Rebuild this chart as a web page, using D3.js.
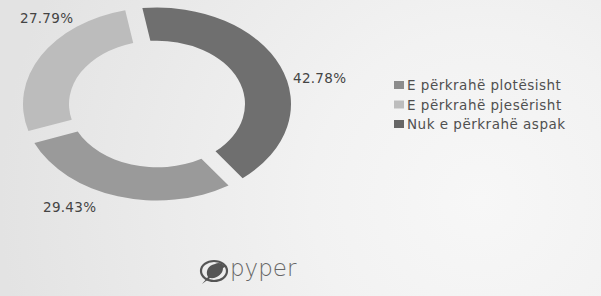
<!DOCTYPE html>
<html>
<head>
<meta charset="utf-8">
<script src="https://cdn.jsdelivr.net/npm/d3@7"></script>
<style>
  html, body { margin: 0; padding: 0; background: #e9e9e9; }
  svg { display: block; }
  text { font-family: "DejaVu Sans", sans-serif; }
</style>
</head>
<body>
<div id="chart"></div>
<script>
var categories = ['E përkrahë plotësisht', 'E përkrahë pjesërisht', 'Nuk e përkrahë aspak'];
var values = [29.43, 27.79, 42.78];
var sliceColors = ['#9a9a9a', '#bcbcbc', '#6f6f6f'];
var legendColors = ['#8c8c8c', '#bdbdbd', '#666666'];
// drawing order around the ring, clockwise from the top
var ringOrder = [2, 0, 1];

var width = 601, height = 296;

var svg = d3.select('#chart')
  .append('svg')
  .attr('width', width)
  .attr('height', height);

var defs = svg.append('defs');
var grad = defs.append('radialGradient')
  .attr('id', 'bg')
  .attr('gradientUnits', 'userSpaceOnUse')
  .attr('cx', 480).attr('cy', 200).attr('r', 480);
grad.append('stop').attr('offset', '0%').attr('stop-color', '#f7f7f7');
grad.append('stop').attr('offset', '35%').attr('stop-color', '#f2f2f2');
grad.append('stop').attr('offset', '100%').attr('stop-color', '#e3e3e3');

svg.append('rect')
  .attr('width', width)
  .attr('height', height)
  .attr('fill', 'url(#bg)');

var slices = ringOrder.map(function (i) {
  return { label: categories[i], value: values[i], color: sliceColors[i] };
});

var pie = d3.pie()
  .sort(null)
  .value(function (d) { return d.value; })
  .startAngle(-10 * Math.PI / 180)
  .endAngle(350 * Math.PI / 180);

var outerR = 134, innerR = 88;
var arc = d3.arc()
  .innerRadius(innerR)
  .outerRadius(outerR)
  .padAngle(0.13)
  .padRadius(outerR);

var ring = svg.append('g')
  .attr('transform', 'translate(157,104) scale(1,0.72)');

ring.selectAll('path')
  .data(pie(slices))
  .enter()
  .append('path')
  .attr('d', arc)
  .attr('fill', function (d) { return d.data.color; });

// percentage labels placed around the ring
var labelSpots = { 'Nuk e përkrahë aspak': [293, 83],
                   'E përkrahë pjesërisht': [20, 23],
                   'E përkrahë plotësisht': [43, 212] };
svg.selectAll('text.pct')
  .data(slices)
  .enter()
  .append('text')
  .attr('class', 'pct')
  .attr('x', function (d) { return labelSpots[d.label][0]; })
  .attr('y', function (d) { return labelSpots[d.label][1]; })
  .attr('font-size', 13.5)
  .attr('letter-spacing', 0.3)
  .attr('fill', '#444')
  .text(function (d) { return d.value.toFixed(2) + '%'; });

// legend
var legend = svg.append('g').attr('transform', 'translate(394,85)');
var rows = legend.selectAll('g')
  .data(categories)
  .enter()
  .append('g')
  .attr('transform', function (d, i) { return 'translate(0,' + (i * 19.5) + ')'; });
rows.append('rect')
  .attr('x', 0).attr('y', -4)
  .attr('width', 10).attr('height', 8)
  .attr('fill', function (d, i) { return legendColors[i]; });
rows.append('text')
  .attr('x', 13)
  .attr('y', 5)
  .attr('font-size', 13.5)
  .attr('letter-spacing', 0.5)
  .attr('fill', '#505050')
  .text(function (d) { return d; });

// logo
var logo = svg.append('g');
logo.append('ellipse')
  .attr('cx', 214).attr('cy', 271)
  .attr('rx', 13).attr('ry', 10)
  .attr('fill', 'none')
  .attr('stroke', '#555')
  .attr('stroke-width', 2.2);
logo.append('path')
  .attr('d', 'M202,284 L208,277 C205,272 208,265 215,264 C218,262 222,263 223,265 L227,266 L223,268 C223,274 217,279 210,278 Z')
  .attr('fill', '#555');
logo.append('text')
  .attr('x', 230)
  .attr('y', 276)
  .attr('font-family', 'Lato, sans-serif')
  .attr('font-weight', 300)
  .attr('font-size', 23)
  .attr('fill', '#666')
  .text('pyper');
</script>
</body>
</html>
